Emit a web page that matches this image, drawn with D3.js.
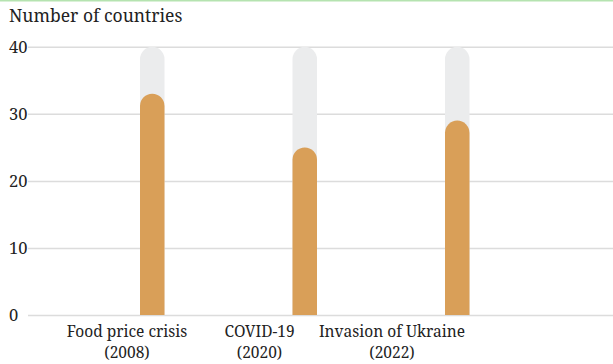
<!DOCTYPE html>
<html>
<head>
<meta charset="utf-8">
<script src="https://cdn.jsdelivr.net/npm/d3@7"></script>
<style>
  html, body { margin: 0; padding: 0; background: #fff; }
  svg { display: block; }
  text { font-family: "Noto Serif", "Liberation Serif", serif; fill: #222; }
</style>
</head>
<body>
<svg id="chart" width="613" height="364"></svg>
<script>
// Countries affected in each crisis, out of a maximum of 40
const categories = ["Food price crisis|(2008)", "COVID-19|(2020)", "Invasion of Ukraine|(2022)"];
const values = [33, 25, 29];
const maxValue = 40;
const yTicks = [0, 10, 20, 30, 40];
const yTitle = "Number of countries";

const svg = d3.select("#chart");
const W = 613, H = 364;

// thin green rule along the top edge
svg.append("rect").attr("x", 0).attr("y", 0).attr("width", W).attr("height", 1.5).attr("fill", "#b5e3b0");

const x = d3.scaleBand().domain(categories).range([76, 533.5]);
const xLabel = d3.scaleBand().domain(categories).range([60.75, 458.25]);
const y = d3.scaleLinear().domain([0, 40]).range([315, 46.8]);
const barW = 24.5;

// y title
svg.append("text").attr("x", 9).attr("y", 22).attr("font-size", 17.5).text(yTitle);

// gridlines and tick labels
const yAxis = d3.axisLeft(y).tickValues(yTicks).tickSize(0).tickPadding(0);
const gy = svg.append("g").attr("transform", "translate(28,0)").call(yAxis);
gy.select(".domain").remove();
gy.selectAll(".tick line")
  .attr("x1", 0).attr("x2", W - 28)
  .attr("stroke", "#dcdcdc").attr("stroke-width", 1.5);
gy.selectAll(".tick text")
  .attr("x", -19).attr("text-anchor", "start")
  .attr("font-size", 16.5).attr("font-family", "Noto Serif, serif").attr("fill", "#222");

// rounded-top bar path from value v (cap radius = half width)
function capBar(cx, v) {
  const r = barW / 2, top = y(v), bot = y(0);
  return `M${cx - r},${bot} L${cx - r},${top + r} A${r},${r} 0 0 1 ${cx + r},${top + r} L${cx + r},${bot} Z`;
}

const g = svg.append("g");
categories.forEach((c, i) => {
  const cx = x(c) + x.bandwidth() / 2;
  g.append("path").attr("d", capBar(cx, maxValue)).attr("fill", "#ebeced");
  g.append("path").attr("d", capBar(cx, values[i])).attr("fill", "#d99f58");
});

// category labels
const xAxis = d3.axisBottom(xLabel).tickSize(0).tickFormat(() => "");
const gx = svg.append("g").attr("transform", "translate(0,315)").call(xAxis);
gx.select(".domain").remove();
gx.selectAll(".tick").each(function(d) {
  const parts = d.split("|");
  const t = d3.select(this).append("text")
    .attr("text-anchor", "middle").attr("font-size", 15.5).attr("fill", "#222");
  t.append("tspan").attr("x", 0).attr("y", 22).text(parts[0]);
  t.append("tspan").attr("x", 0).attr("y", 43).text(parts[1]);
});
</script>
</body>
</html>
